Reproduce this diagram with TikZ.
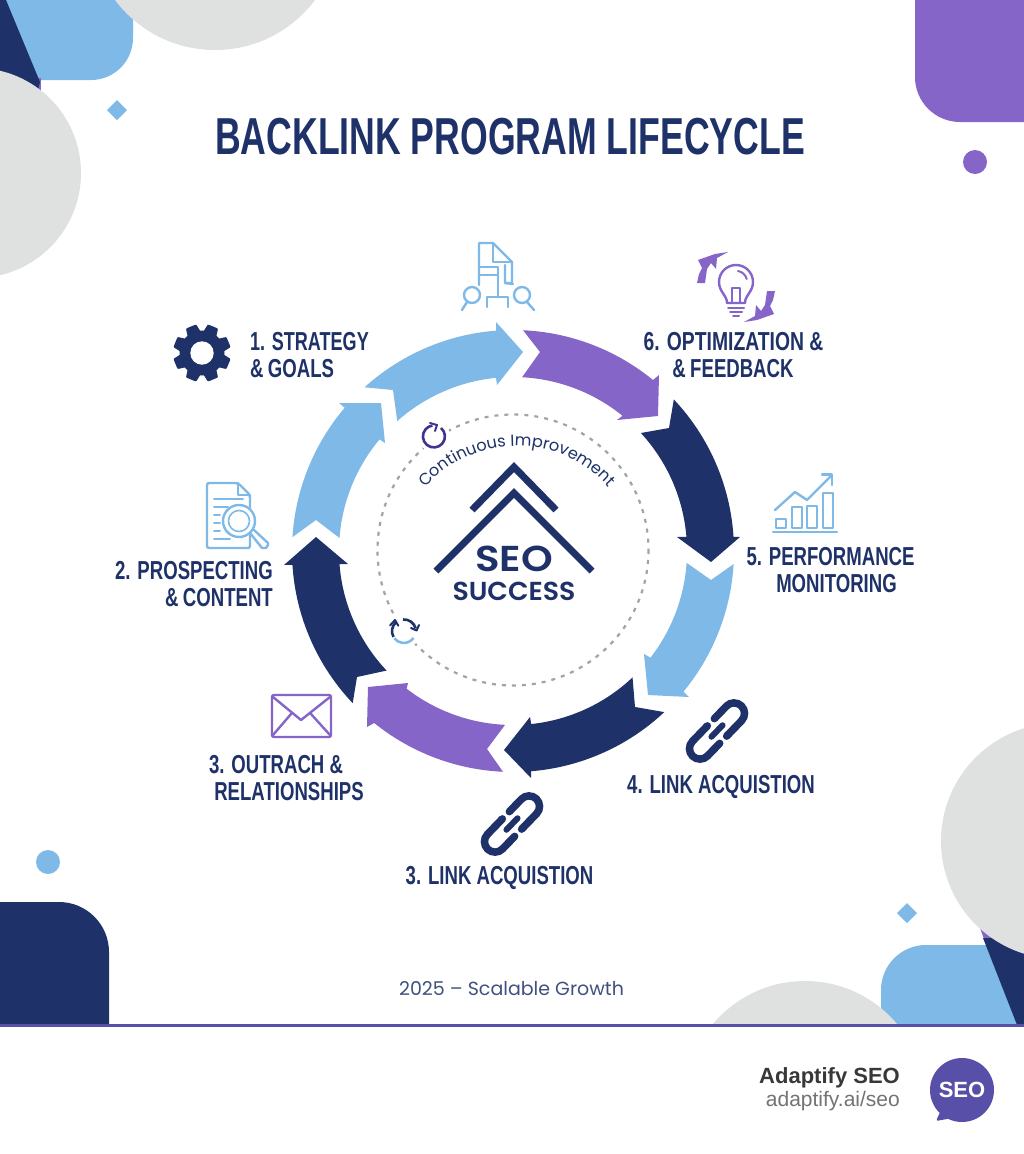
\documentclass[tikz,border=0pt]{standalone}
\usepackage{fontspec}
\usepackage{graphicx}
\usetikzlibrary{decorations.text}
\newfontfamily\condf[FakeStretch=0.715]{Liberation Sans}
\newfontfamily\titlef[FakeStretch=0.685]{Liberation Sans}
\newfontfamily\popf{Poppins}
\newfontfamily\popwa[FakeStretch=1.12]{Poppins SemiBold}
\newfontfamily\popwb[FakeStretch=1.03]{Poppins SemiBold}
\newfontfamily\brandf{Liberation Sans}
\definecolor{navy}{HTML}{1E3269}
\definecolor{ltblue}{HTML}{7FB9E8}
\definecolor{purp}{HTML}{8565C8}
\definecolor{greyc}{HTML}{DFE0E0}
\definecolor{indigo}{HTML}{5850A8}
\definecolor{ringgrey}{HTML}{A3A3A3}
\definecolor{ringind}{HTML}{3F3590}
\tikzset{
  lab/.style={text=navy,inner sep=0pt,font=\condf\bfseries\fontsize{26}{28}\selectfont},
  iconblue/.style={draw=ltblue,line width=2.4pt,line join=round,line cap=round,fill=none},
  iconpurp/.style={draw=purp,line width=2.4pt,line join=round,line cap=round,fill=none},
  linkline/.style={draw=navy,line width=7.5pt,line cap=round,fill=none},
}
% colour, a1, a2, head points, a3, a4, notch
\newcommand\ringarrow[7]{\fill[#1] (#2:221) arc[start angle=#2,end angle=#3,radius=221] -- #4 -- (#5:174) arc[start angle=#5,end angle=#6,radius=174] -- #7 -- cycle;}
\newcommand\chainicon[2]{\begin{scope}[shift={(#1,#2)},rotate=46]
  \draw[linkline] (7,-10.5) -- (24.5,-10.5) arc[start angle=-90,end angle=90,radius=10.5] -- (3,10.5);
  \draw[linkline] (-7,10.5) -- (-24.5,10.5) arc[start angle=90,end angle=270,radius=10.5] -- (-3,-10.5);
  \draw[linkline,line width=6pt] (-8,0) -- (8,0);
\end{scope}}
\begin{document}
\begin{tikzpicture}[x=1pt,y=-1pt]
\useasboundingbox (0,0) rectangle (1024,1154);
\fill[white] (0,0) rectangle (1024,1154);
\begin{scope}
\clip (0,0) rectangle (1024,1154);
% top-left decoration
\fill[ltblue,rounded corners=42pt] (-60,-60) rectangle (133,80);
\fill[purp] (30,78) -- (41,78) -- (41,92) -- (30,92) -- cycle;
\fill[navy] (0,0) -- (6,0) -- (40,82) -- (38,90) -- (0,90) -- cycle;
\fill[greyc] (215,-75) circle[radius=125];
\fill[greyc] (-24,173) circle[radius=105];
\fill[ltblue] (117,100) -- (127,110) -- (117,120) -- (107,110) -- cycle;
% top-right decoration
\fill[purp,rounded corners=45pt] (915,-60) rectangle (1084,122);
\fill[purp] (975,162) circle[radius=12];
% bottom-left decoration
\fill[navy,rounded corners=50pt] (-60,902) rectangle (109,1090);
\fill[ltblue] (48,862) circle[radius=12];
% bottom-right decoration
\fill[ltblue,rounded corners=45pt] (881,945) rectangle (1090,1090);
\fill[purp] (980,928) -- (1024,928) -- (1024,960) -- (988,950) -- cycle;
\fill[navy] (983,938) -- (1024,938) -- (1024,1030) -- (1019,1030) -- cycle;
\fill[greyc] (1059,841) circle[radius=118];
\fill[greyc] (805,1101) circle[radius=120];
\fill[ltblue] (907,903) -- (917,913) -- (907,923) -- (897,913) -- cycle;
% footer
\fill[white] (0,1025) rectangle (1024,1154);
\fill[indigo] (0,1023.5) rectangle (1024,1026.5);
\end{scope}
% title
\node[text=navy,inner sep=0pt,font=\titlef\bfseries\fontsize{52}{56}\selectfont] (title) at (510,137) {BACKLINK PROGRAM LIFECYCLE};
% ring of arrows
\begin{scope}[shift={(513,551)}]
\ringarrow{ltblue}{183.6}{220.4}{(-174,-148) -- (-132,-148) -- (-128,-108)}{219.9}{184.3}{(-197,-31)}
\ringarrow{ltblue}{227.8}{265.6}{(-17,-229) -- (10,-199) -- (-16,-166)}{264.4}{228.3}{(-120,-161)}
\ringarrow{purp}{272.6}{309.3}{(146,-176) -- (145,-135) -- (104,-131)}{309}{273}{(27,-199)}
\ringarrow{navy}{-43.3}{-3.7}{(227,-14) -- (198,11) -- (164,-14)}{-4.7}{-42.7}{(156,-123)}
\ringarrow{ltblue}{3.4}{39.5}{(176,146) -- (135,144) -- (131,103)}{37.8}{3.9}{(198,29)}
\ringarrow{navy}{46.8}{85.3}{(18,227) -- (-9,199) -- (17,166)}{84}{46.6}{(122,156)}
\ringarrow{purp}{92.6}{128.9}{(-146,176) -- (-145,136) -- (-105,132)}{127.7}{92.6}{(-26,198)}
\ringarrow{navy}{136.5}{176.4}{(-229,14) -- (-197,-14) -- (-165,13)}{175.7}{136.6}{(-156,126)}
\end{scope}
% dashed inner ring
\draw[ringgrey,line width=2.2pt,dash pattern=on 4pt off 6pt] (513,550) circle[radius=135.5];
\fill[white] (434,436) circle[radius=16];
\fill[white] (404,631) circle[radius=17];
% ring icons
\draw[draw=ringind,line width=2.6pt] (441,428) arc[start angle=-50,end angle=262,radius=11];
\draw[draw=ringind,line width=2pt,line cap=round,line join=round] (430,423) -- (437,425) -- (435,431);
\draw[draw=navy,line width=2.6pt] (393.5,637) arc[start angle=151,end angle=228,radius=12];
\draw[draw=navy,line width=2.6pt] (403,619.5) arc[start angle=265,end angle=345,radius=12];
\draw[draw=ltblue,line width=2.6pt] (413.5,638) arc[start angle=36,end angle=142,radius=12];
\draw[draw=navy,line width=2pt,line join=round,line cap=round] (390,625.5) -- (395,620) -- (398.3,625.7);
\draw[draw=navy,line width=2pt,line join=round,line cap=round] (411,628) -- (416.6,630.5) -- (419,625);
% centre
\path[decorate,decoration={text along path,text align=center,text={|\popf\fontsize{16.2}{17}\selectfont\color{navy}|Continuous Improvement}}] (517,568)++(180:122) arc[start angle=180,end angle=360,radius=122];
\draw[navy,line width=7pt,miter limit=10] (472,510) -- (514,467) -- (556,510);
\draw[navy,line width=7pt,miter limit=10] (436,571) -- (514,493) -- (592,571);
\node[text=navy,inner sep=0pt,font=\popwa\fontsize{36}{36}\selectfont] (seo) at (514,559) {SEO};
\node[text=navy,inner sep=0pt,font=\popwb\fontsize{26}{26}\selectfont] (success) at (514,591) {SUCCESS};
% labels
\node[lab,anchor=west] (l1a) at (250,342) {\scalebox{.97}[1]{1. STRATEGY}};
\node[lab,anchor=west] (l1b) at (250,369) {\&\,GOALS};
\node[lab,anchor=east] (l2a) at (273,571) {2. PROSPECTING};
\node[lab,anchor=east] (l2b) at (273,598) {\&\,CONTENT};
\node[lab] (l3a) at (276,765) {3. OUTRACH \&};
\node[lab] (l3b) at (289,792) {RELATIONSHIPS};
\node[lab] (l3c) at (499.5,878) {3. LINK ACQUISTION};
\node[lab] (l4) at (721,787) {4. LINK ACQUISTION};
\node[lab] (l5a) at (830.5,557) {5. PERFORMANCE};
\node[lab] (l5b) at (836.5,584) {MONITORING};
\node[lab] (l6a) at (733.5,342) {\scalebox{1.04}[1]{6. OPTIMIZATION \&}};
\node[lab] (l6b) at (733,369) {\&\,FEEDBACK};
% gear
\begin{scope}[shift={(202,353)}]
\foreach \a in {0,45,...,315}{\begin{scope}[rotate=\a+22.5]\fill[navy,rounded corners=1pt] (-7,-20) -- (-5.5,-28.7) -- (5.5,-28.7) -- (7,-20) -- cycle;\end{scope}}
\fill[navy] (0,0) circle[radius=22.5];
\fill[white] (0,0) circle[radius=11.7];
\end{scope}
% plan icon
\draw[iconblue] (479,285) -- (479,243) -- (493,243) -- (512,262) -- (512,283) -- (505,283) -- (505,265);
\draw[iconblue] (493,243) -- (493,262) -- (512,262);
\draw[iconblue] (479,267) -- (498,267) -- (498,297);
\draw[iconblue] (479,275) -- (498,275);
\draw[iconblue] (505,283) -- (513,284);
\draw[iconblue] (487,307) -- (487,297) -- (508,297) -- (508,307);
\draw[iconblue] (472,295) circle[radius=8];
\draw[iconblue] (467,302) -- (462,310);
\draw[iconblue] (522,295) circle[radius=8];
\draw[iconblue] (527,302) -- (534,310);
% document + magnifier icon
\draw[iconblue,rounded corners=2pt] (207,483) -- (238,483) -- (250,495) -- (250,548) -- (207,548) -- cycle;
\draw[iconblue] (238,483) -- (238,495) -- (250,495);
\foreach \y/\xe in {499/243,507/228,515/220,523/220,531/220,539/230}{\draw[iconblue,line width=2pt] (214,\y) -- (\xe,\y);}
\fill[white] (239,521) circle[radius=17];
\draw[iconblue] (239,521) circle[radius=16];
\draw[iconblue,line width=1.6pt] (239,521) circle[radius=10.5];
\draw[iconblue] (250,533) -- (262,548) -- (266,548) -- (268,545) -- (268,543) -- (254,530);
% bulb icon
\draw[iconpurp] (727,303) .. controls (727,295) and (719,292) .. (719,282) arc[start angle=180,end angle=360,radius=17] .. controls (753,292) and (745,295) .. (745,303) -- cycle;
\draw[iconpurp] (732,303) -- (732,288) -- (740,288) -- (740,303);
\draw[iconpurp,line width=2pt] (728,307.5) -- (744,307.5);
\draw[iconpurp,line width=2pt] (730,312) -- (742,312);
\draw[iconpurp,line width=2pt] (733,316) -- (739,316);
\draw[iconpurp,line width=2pt] (738,271) arc[start angle=-80,end angle=-15,radius=11];
\fill[purp] (697,283) -- (699,274) -- (702,268) -- (698,260) -- (715,254) -- (728,252) -- (717,258) -- (716,269) -- (711,263) -- (707,269) -- (705,283) -- cycle;
\fill[purp] (775,291) -- (773,300) -- (770,306) -- (774,314) -- (757,320) -- (744,322) -- (755,316) -- (756,305) -- (761,311) -- (765,305) -- (767,291) -- cycle;
% chart icon
\draw[iconblue] (773,532) -- (837,532);
\draw[iconblue] (776,519) rectangle (786,528);
\draw[iconblue] (792,507) rectangle (802,528);
\draw[iconblue] (807,506) rectangle (817,528);
\draw[iconblue] (823,493) rectangle (833,528);
\draw[iconblue] (775,510) -- (795,492) -- (807,500) -- (832,475);
\draw[iconblue] (822,474.5) -- (832,474.5) -- (832,485);
% envelope icon
\draw[iconpurp,rounded corners=2pt] (272,695) rectangle (331,737);
\draw[iconpurp] (273,697) -- (301,720) -- (330,697);
\draw[iconpurp] (273,735) -- (291,714);
\draw[iconpurp] (330,735) -- (311,714);
% chain icons
\chainicon{717}{731}
\chainicon{512}{824}
% footer texts
\node[text=navy!85!white,inner sep=0pt,font=\popf\fontsize{19}{19}\selectfont] (year) at (511.5,989) {2025 – Scalable Growth};
\node[text=black!78,anchor=east,inner sep=0pt,font=\brandf\bfseries\fontsize{22}{22}\selectfont] (brand) at (900,1078) {Adaptify SEO};
\node[text=black!55,anchor=east,inner sep=0pt,font=\brandf\fontsize{21}{21}\selectfont] (url) at (900,1101) {adaptify.ai/seo};
% speech bubble
\fill[indigo] (962,1090) circle[radius=32];
\fill[indigo,rounded corners=2pt] (942,1108) -- (936,1121) -- (958,1117) -- cycle;
\node[text=white,inner sep=0pt,font=\brandf\bfseries\fontsize{22}{22}\selectfont] (bubbletext) at (962,1090) {SEO};
\end{tikzpicture}
\end{document}
